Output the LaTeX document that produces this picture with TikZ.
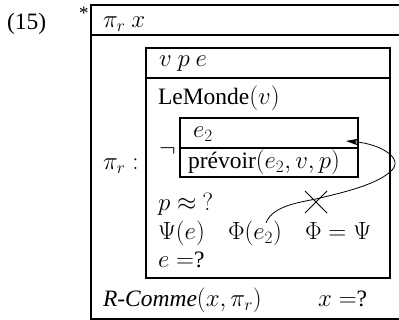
\documentclass[tikz,border=0pt]{standalone}
\usepackage[no-math]{fontspec}
\setmainfont{Liberation Serif}
\usetikzlibrary{arrows.meta,calc}
\begin{document}
\begin{tikzpicture}[x=1pt,y=-1pt,
  font=\fontsize{23.5}{28}\selectfont,
  box/.style={line width=2.2pt},
  thinline/.style={line width=0.8pt},
  txt/.style={anchor=base west, inner sep=0pt, outer sep=0pt}]
\useasboundingbox (0,0) rectangle (399,320);
% outer box (cut at the right edge)
\draw[box] (399,5) -- (91,5) -- (91,319) -- (399,319);
\draw[box] (91,35) -- (399,35);
% inner box
\draw[box] (146,48) rectangle (390,278);
\draw[box] (146,78) -- (390,78);
% innermost box
\draw[box] (180,118) rectangle (358,177);
\draw[box] (180,148) -- (358,148);
% texts
\node[txt] (num) at (7,30) {(15)};
\node[txt, font=\fontsize{19}{19}\selectfont] (star) at (79,20) {*};
\node[txt] (hdr) at (103,28) {$\pi_r\ x$};
\node[txt] (vars) at (159,67) {$v\ p\ e$};
\node[txt] (lemonde) at (158,105) {LeMonde$(v)$};
\node[txt] (neg) at (159,157) {$\neg$};
\node[txt] (pir) at (103,170) {$\pi_r :$};
\node[txt] (e2) at (193,138) {$e_2$};
\node[txt] (prevoir) at (188,169) {prévoir$(e_2, v, p)$};
\node[txt] (papprox) at (158,211) {$p \approx\ ?$};
\node[txt] (psie) at (158,240) {$\Psi(e)$};
\node[txt] (phie) at (228,240) {$\Phi(e_2)$};
\node[txt] (phipsi) at (305,240) {$\Phi = \Psi$};
\node[txt] (eq) at (158,268) {$e =$?};
\node[txt] (rcomme) at (103,307) {\textit{R-Comme}$(x,\pi_r)$};
\node[txt] (xeq) at (318,307) {$x =$?};
% link
\coordinate (cstart) at (266,223);
\coordinate (cend) at (346,141);
\draw[thinline, -{Stealth[length=12pt,width=6.5pt,inset=3pt]}] (cstart)
  .. controls (272,207) and (295,203) .. (316,199)
  .. controls (345,192) and (375,185) .. (390,172)
  .. controls (406,159) and (381,144) .. (cend);
% cross
\coordinate (xc) at (316,202);
\draw[thinline] ($(xc)+(-11,-11)$) -- ($(xc)+(11,11)$);
\draw[thinline] ($(xc)+(-11,11)$) -- ($(xc)+(11,-11)$);
\end{tikzpicture}
\end{document}
